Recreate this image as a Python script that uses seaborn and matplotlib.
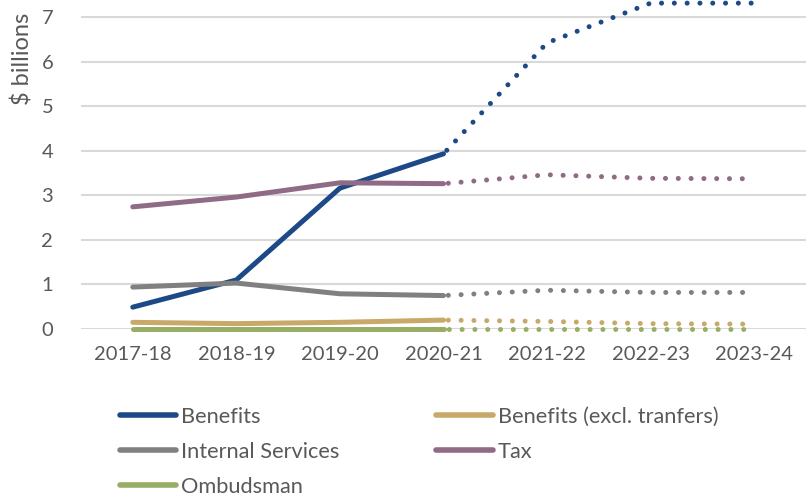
import matplotlib
matplotlib.use("Agg")
import matplotlib.pyplot as plt
from matplotlib.lines import Line2D
import seaborn as sns
import pandas as pd

years = ["2017-18", "2018-19", "2019-20", "2020-21", "2021-22", "2022-23", "2023-24"]
benefits = [0.49, 1.10, 3.16, 3.93, 6.42, 7.31, 7.31]
benefits_excl = [0.15, 0.12, 0.15, 0.20, 0.17, 0.12, 0.11]
internal_services = [0.94, 1.03, 0.79, 0.75, 0.87, 0.82, 0.82]
tax = [2.74, 2.96, 3.28, 3.26, 3.46, 3.38, 3.37]
ombudsman = [0.01, 0.01, 0.01, 0.01, 0.01, 0.01, 0.01]
last_actual = "2020-21"

series_names = ["Benefits", "Benefits (excl. tranfers)", "Internal Services", "Tax", "Ombudsman"]
series_values = [benefits, benefits_excl, internal_services, tax, ombudsman]
colors = ["#1d4a87", "#c8a96a", "#808080", "#8f6b86", "#97ae64"]

sns.set_theme(style="white")
plt.rcParams["font.family"] = ["Lato", "DejaVu Sans"]
text_color = "#595959"

rows = []
for name, vals in zip(series_names, series_values):
    for i, (yr, v) in enumerate(zip(years, vals)):
        rows.append({"series": name, "pos": i, "year": yr, "value": v})
df = pd.DataFrame(rows)
cut = years.index(last_actual)

fig = plt.figure(figsize=(8.06, 4.98), dpi=100)
ax = fig.add_axes([81 / 806, 1 - 329 / 498, 1 - 81 / 806, 329 / 498])

for name, color in zip(series_names, colors):
    d = df[df["series"] == name]
    actual = d[d["pos"] <= cut]
    proj = d[d["pos"] >= cut]
    sns.lineplot(data=actual, x="pos", y="value", ax=ax, color=color, lw=3.6,
                 solid_capstyle="round", solid_joinstyle="round", zorder=3,
                 clip_on=False)
    sns.lineplot(data=proj, x="pos", y="value", ax=ax, color=color, lw=3.6,
                 linestyle=(1.6, (0.01, 2.55)), dash_capstyle="round", zorder=3,
                 clip_on=False)

ax.set_xlim(-0.5, len(years) - 0.5)
ax.set_ylim(0, 7.38)
ax.set_yticks(range(0, 8))
ax.set_xticks(range(len(years)))
ax.set_xticklabels(years)
ax.set_xlabel("")
ax.set_ylabel("")
ax.grid(axis="y", color="#d9d9d9", lw=1.5, zorder=0)
ax.grid(axis="x", visible=False)
for s in ax.spines.values():
    s.set_visible(False)
ax.tick_params(axis="both", length=0, labelsize=14.5, labelcolor=text_color)
ax.tick_params(axis="y", pad=20)
ax.tick_params(axis="x", pad=12)
ax.set_axisbelow(True)

fig.text(23 / 806, 1 - 59 / 498, "$ billions", rotation=90, ha="center", va="center",
         fontsize=17, color=text_color)

handles = [Line2D([0], [0], color=c, lw=4, solid_capstyle="round") for c in colors]
order = [0, 2, 4, 1, 3]
leg = fig.legend([handles[i] for i in order], [series_names[i] for i in order],
                 loc="upper left", bbox_to_anchor=(120 / 806, 1 - 407 / 498), ncol=2,
                 frameon=False, fontsize=15.7, handlelength=2.57, handletextpad=0.23,
                 columnspacing=4.45, labelspacing=0.69, borderaxespad=0, borderpad=0)
for t in leg.get_texts():
    t.set_color(text_color)

fig.savefig("out.png", dpi=100)
